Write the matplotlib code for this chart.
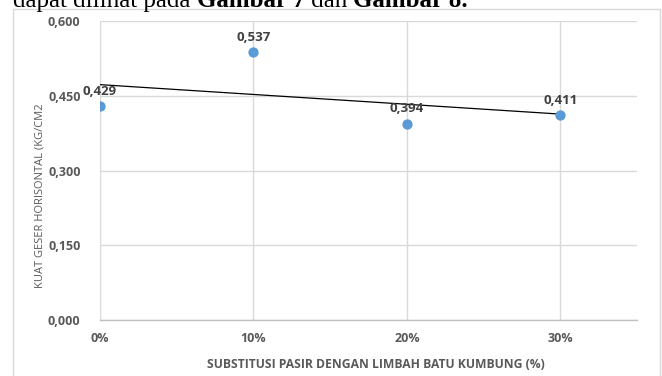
import numpy as np
import matplotlib
matplotlib.use("Agg")
import matplotlib.pyplot as plt
from matplotlib.patches import Rectangle
from matplotlib.ticker import FixedLocator, FuncFormatter

# Substitution level (%) and horizontal shear strength
substitusi = [0, 10, 20, 30]
kuat_geser = [0.429, 0.537, 0.394, 0.411]
y_ticks = [0.0, 0.15, 0.30, 0.45, 0.60]
x_ticks = [0, 10, 20, 30]

FONT = ["Open Sans", "DejaVu Sans"]
GRAY = "#595959"

W, H = 662, 376
fig = plt.figure(figsize=(W / 100, H / 100), dpi=100)

def px(x0, y0, x1, y1):
    return [x0 / W, 1 - y1 / H, (x1 - x0) / W, (y1 - y0) / H]

# chart frame
fig.patches.append(Rectangle((13 / W, -0.05), (660 - 13) / W, 1 - 9 / H + 0.05,
                             transform=fig.transFigure, fill=False,
                             edgecolor="#d9d9d9", linewidth=1.0))

# running text line above the chart, words laid out one after another
renderer = fig.canvas.get_renderer()
parts = [("dapat dilihat pada ", "normal"), ("Gambar 7", "bold"),
         (" dan ", "normal"), ("Gambar 8.", "bold")]
x_cur = 13
for txt, wt in parts:
    t = fig.text(x_cur / W, 1 - 7 / H, txt, family="Liberation Serif",
                 fontsize=18, fontweight=wt, va="baseline", ha="left")
    bb = t.get_window_extent(renderer=renderer)
    x_cur += bb.width

ax = fig.add_axes(px(100, 21, 637, 320))
ax.set_xlim(0, 35)
ax.set_ylim(0, 0.6)

ax.xaxis.set_major_locator(FixedLocator(x_ticks))
ax.yaxis.set_major_locator(FixedLocator(y_ticks))
ax.xaxis.set_major_formatter(FuncFormatter(lambda v, p: f"{v:.0f}%"))
ax.yaxis.set_major_formatter(FuncFormatter(lambda v, p: f"{v:.3f}".replace(".", ",")))

ax.grid(True, color="#d9d9d9", linewidth=1.0)
ax.set_axisbelow(True)
for s in ["top", "right", "left"]:
    ax.spines[s].set_visible(False)
ax.spines["bottom"].set_color("#bfbfbf")
ax.spines["bottom"].set_linewidth(1.0)
ax.tick_params(length=0, colors=GRAY)
ax.tick_params(axis="x", pad=9)
ax.tick_params(axis="y", pad=14)
for lab in ax.get_xticklabels() + ax.get_yticklabels():
    lab.set_family(FONT)
    lab.set_fontweight("bold")
    lab.set_fontsize(9)
    lab.set_color(GRAY)

# linear trend line
coef = np.polyfit(substitusi, kuat_geser, 1)
xt = np.array([substitusi[0], substitusi[-1]])
ax.plot(xt, np.polyval(coef, xt), color="black", linewidth=0.9, zorder=2)

ax.scatter(substitusi, kuat_geser, s=55, color="#5b9bd5", zorder=3, linewidths=0)

for x, y in zip(substitusi, kuat_geser):
    ax.annotate(f"{y:.3f}".replace(".", ","), (x, y), xytext=(0, 6),
                textcoords="offset points", ha="center", va="bottom",
                fontsize=9.5, fontweight="bold", color="#404040", family=FONT,
                zorder=4)

fig.text(40 / W, 1 - 196 / H, "KUAT GESER HORISONTAL (KG/CM2", rotation=90,
         ha="center", va="center", fontsize=8, color=GRAY, family=FONT)
fig.text(376 / W, 1 - 364 / H, "SUBSTITUSI PASIR DENGAN LIMBAH BATU KUMBUNG (%)",
         ha="center", va="center", fontsize=8.7, fontweight="bold", color=GRAY,
         family=FONT)

fig.savefig("out.png", dpi=100)
